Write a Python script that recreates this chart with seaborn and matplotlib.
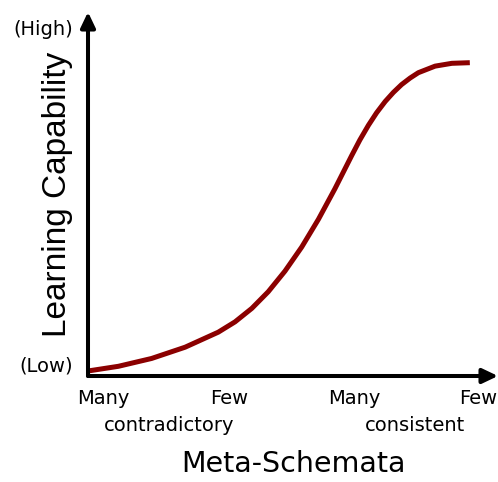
import matplotlib
matplotlib.use("Agg")
import matplotlib.pyplot as plt
import seaborn as sns
import pandas as pd

# Curve: learning capability versus the kind of meta-schemata held
schema_level = [0.0, 0.078, 0.163, 0.249, 0.334, 0.377, 0.420, 0.462, 0.505,
                0.548, 0.591, 0.633, 0.676, 0.697, 0.719, 0.740, 0.762, 0.783,
                0.804, 0.826, 0.847, 0.890, 0.933, 0.979]
capability = [0.016, 0.031, 0.056, 0.092, 0.140, 0.173, 0.216, 0.269, 0.335,
              0.412, 0.501, 0.598, 0.704, 0.754, 0.801, 0.841, 0.877, 0.906,
              0.931, 0.952, 0.969, 0.990, 0.999, 1.001]

# Axis annotations
x_tick_pos = [0.038, 0.362, 0.682, 1.0]
x_tick_labels = ["Many", "Few", "Many", "Few"]
x_group_pos = [0.208, 0.838]
x_group_labels = ["contradictory", "consistent"]
y_tick_pos = [0.038, 1.115]
y_tick_labels = ["(Low)", "(High)"]
x_title = "Meta-Schemata"
y_title = "Learning Capability"

sns.set_style("white", {"text.color": "black", "axes.labelcolor": "black",
                        "xtick.color": "black", "ytick.color": "black"})
plt.rcParams["font.family"] = ["DejaVu Sans"]

W, H = 498, 482
fig = plt.figure(figsize=(W / 100, H / 100), dpi=100)
left, right, bottom, top = 88, 498, 376, 12
ax = fig.add_axes([left / W, (H - bottom) / H, (right - left) / W, (bottom - top) / H])
ax.set_xlim(0, (right - left) / 390)
ax.set_ylim(0, (bottom - top) / 313)

df = pd.DataFrame({"schema": schema_level, "capability": capability})
sns.lineplot(data=df, x="schema", y="capability", color="#8B0000", lw=3.6,
             ax=ax, clip_on=False, solid_capstyle="butt",
             solid_joinstyle="round")

for s in ax.spines.values():
    s.set_visible(False)

arrow = dict(arrowstyle="-|>,head_length=0.42,head_width=0.2", lw=2.9,
             color="black", mutation_scale=22, shrinkA=0, shrinkB=0)
ax.annotate("", xy=(1, 0), xytext=(0, 0), xycoords="axes fraction",
            textcoords="axes fraction", arrowprops=arrow, annotation_clip=False)
ax.annotate("", xy=(0, 1), xytext=(0, 0), xycoords="axes fraction",
            textcoords="axes fraction", arrowprops=arrow, annotation_clip=False)

ax.set_xticks(x_tick_pos)
ax.set_xticklabels(x_tick_labels, fontsize=14)
ax.set_yticks(y_tick_pos)
ax.set_yticklabels(y_tick_labels, fontsize=14)
ax.tick_params(axis="x", length=0, pad=9)
ax.tick_params(axis="y", length=0, pad=11)

for xp, lab in zip(x_group_pos, x_group_labels):
    ax.text(xp, -0.136, lab, fontsize=14, ha="center", va="center",
            transform=ax.get_xaxis_transform())

ax.set_xlabel(x_title, fontsize=20.5)
ax.xaxis.label.set_va("center")
ax.xaxis.set_label_coords(0.5, -0.242)
ax.set_ylabel(y_title, fontsize=24, family="Liberation Sans")
ax.yaxis.label.set_va("center")
ax.yaxis.set_label_coords(-0.0756, 0.5)

fig.savefig("out.png", dpi=100)
